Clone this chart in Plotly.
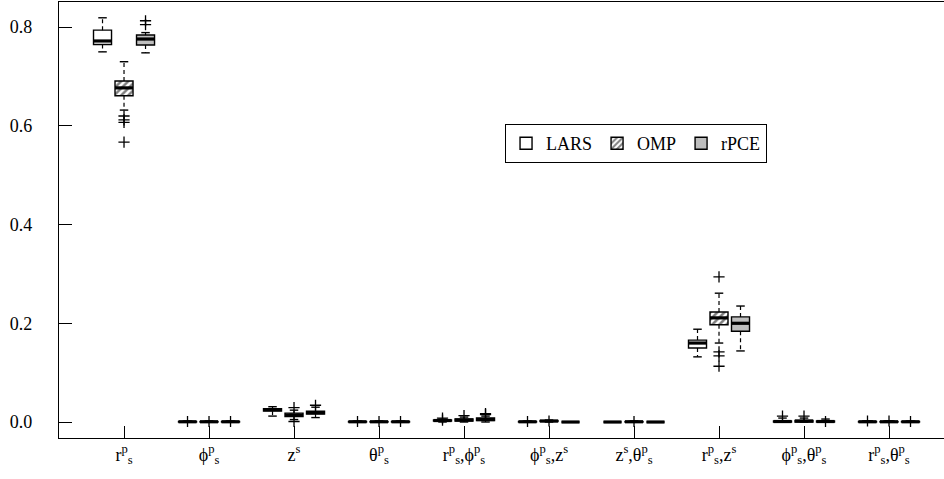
import plotly.graph_objects as go

# ---------------- data ----------------
groups = ["r<sup>p</sup><sub>s</sub>", "ϕ<sup>p</sup><sub>s</sub>", "z<sup>s</sup>",
          "θ<sup>p</sup><sub>s</sub>", "r<sup>p</sup><sub>s</sub>,ϕ<sup>p</sup><sub>s</sub>",
          "ϕ<sup>p</sup><sub>s</sub>,z<sup>s</sup>", "z<sup>s</sup>,θ<sup>p</sup><sub>s</sub>",
          "r<sup>p</sup><sub>s</sub>,z<sup>s</sup>", "ϕ<sup>p</sup><sub>s</sub>,θ<sup>p</sup><sub>s</sub>",
          "r<sup>p</sup><sub>s</sub>,θ<sup>p</sup><sub>s</sub>"]
methods = ["LARS", "OMP", "rPCE"]

lars_lo  = [0.750, 0.000, 0.012, 0.000, 0.000, 0.000, 0.000, 0.132, 0.000, 0.000]
lars_q1  = [0.765, 0.000, 0.022, 0.000, 0.002, 0.000, 0.000, 0.150, 0.000, 0.000]
lars_med = [0.772, 0.0005, 0.025, 0.0005, 0.003, 0.0005, 0.000, 0.160, 0.001, 0.0005]
lars_q3  = [0.794, 0.001, 0.027, 0.001, 0.004, 0.001, 0.000, 0.166, 0.002, 0.001]
lars_hi  = [0.819, 0.002, 0.031, 0.002, 0.006, 0.002, 0.000, 0.188, 0.008, 0.002]
lars_out = [[], [0.001], [], [0.001], [0.004, 0.008], [0.001], [], [], [0.012], [0.002]]

omp_lo  = [0.632, 0.000, 0.005, 0.000, 0.000, 0.000, 0.000, 0.160, 0.000, 0.000]
omp_q1  = [0.661, 0.000, 0.011, 0.000, 0.002, 0.001, 0.000, 0.197, 0.000, 0.000]
omp_med = [0.677, 0.0005, 0.014, 0.0005, 0.004, 0.002, 0.0005, 0.211, 0.002, 0.0005]
omp_q3  = [0.691, 0.001, 0.018, 0.001, 0.006, 0.003, 0.001, 0.223, 0.003, 0.001]
omp_hi  = [0.730, 0.002, 0.024, 0.002, 0.010, 0.004, 0.002, 0.261, 0.008, 0.002]
omp_out = [[0.620, 0.612, 0.607, 0.567], [0.001], [0.029, 0.001], [0.001], [0.013],
           [0.002], [0.001], [0.294, 0.142, 0.134, 0.113], [0.012], [0.002]]

rpce_lo  = [0.748, 0.000, 0.009, 0.000, 0.000, 0.000, 0.000, 0.144, 0.000, 0.000]
rpce_q1  = [0.764, 0.000, 0.016, 0.000, 0.003, 0.000, 0.000, 0.184, 0.000, 0.000]
rpce_med = [0.776, 0.0005, 0.019, 0.0005, 0.005, 0.000, 0.000, 0.200, 0.001, 0.0005]
rpce_q3  = [0.784, 0.001, 0.022, 0.001, 0.008, 0.000, 0.000, 0.213, 0.002, 0.001]
rpce_hi  = [0.789, 0.002, 0.030, 0.002, 0.012, 0.000, 0.000, 0.235, 0.006, 0.002]
rpce_out = [[0.813, 0.805], [0.001], [0.034], [0.001], [0.015, 0.017], [], [], [], [0.001], [0.001]]

y_ticks = [0.0, 0.2, 0.4, 0.6, 0.8]
y_ticktext = ["0.0", "0.2", "0.4", "0.6", "0.8"]

# ---------------- styling ----------------
FONT = "Liberation Serif"
offsets = [-0.253, 0.0, 0.253]
box_w = 0.212
cap_hw = 0.05
stats = [
    (lars_lo, lars_q1, lars_med, lars_q3, lars_hi, lars_out),
    (omp_lo, omp_q1, omp_med, omp_q3, omp_hi, omp_out),
    (rpce_lo, rpce_q1, rpce_med, rpce_q3, rpce_hi, rpce_out),
]
fills = ["white", "white", "#BEBEBE"]
patterns = [None, dict(shape="/", fgcolor="black", bgcolor="white", size=5, solidity=0.5), None]

fig = go.Figure()
n = len(groups)

# boxes (bars)
for m, name in enumerate(methods):
    lo, q1, med, q3, hi, out = stats[m]
    xs = [i + offsets[m] for i in range(n)]
    marker = dict(color=fills[m], line=dict(color="black", width=1.4))
    if patterns[m]:
        marker["pattern"] = patterns[m]
    fig.add_trace(go.Bar(
        x=xs, y=[b - a for a, b in zip(q1, q3)], base=q1, width=box_w,
        marker=marker, name=name, showlegend=True, hoverinfo="skip"))

# whiskers, caps, medians, outliers
for m, name in enumerate(methods):
    lo, q1, med, q3, hi, out = stats[m]
    wx, wy, cx, cy, mx, my, ox, oy = [], [], [], [], [], [], [], []
    for i in range(n):
        xc = i + offsets[m]
        if hi[i] > q3[i]:
            wx += [xc, xc, None]; wy += [q3[i], hi[i], None]
        if lo[i] < q1[i]:
            wx += [xc, xc, None]; wy += [q1[i], lo[i], None]
        cx += [xc - cap_hw, xc + cap_hw, None, xc - cap_hw, xc + cap_hw, None]
        cy += [hi[i], hi[i], None, lo[i], lo[i], None]
        mx += [xc - box_w / 2, xc + box_w / 2, None]
        my += [med[i], med[i], None]
        for v in out[i]:
            ox.append(xc); oy.append(v)
    fig.add_trace(go.Scatter(x=wx, y=wy, mode="lines", showlegend=False, hoverinfo="skip",
                             line=dict(color="black", width=1.2, dash="4px,3px")))
    fig.add_trace(go.Scatter(x=cx, y=cy, mode="lines", showlegend=False, hoverinfo="skip",
                             line=dict(color="black", width=1.4)))
    fig.add_trace(go.Scatter(x=mx, y=my, mode="lines", showlegend=False, hoverinfo="skip",
                             line=dict(color="black", width=3.2)))
    fig.add_trace(go.Scatter(x=ox, y=oy, mode="markers", showlegend=False, hoverinfo="skip",
                             marker=dict(symbol="cross-thin", size=8,
                                         line=dict(color="black", width=1.3))))

fig.update_layout(
    width=944, height=479,
    margin=dict(l=59, r=0, t=2, b=41),
    paper_bgcolor="white", plot_bgcolor="white",
    barmode="overlay",
    font=dict(family=FONT, size=18, color="black"),
    xaxis=dict(range=[-0.765, 9.647], tickmode="array", tickvals=list(range(n)),
               ticktext=groups, ticks="inside", ticklen=12, tickwidth=1, tickcolor="black",
               showline=True, linecolor="black", linewidth=1.2, mirror=True,
               showgrid=False, zeroline=False, tickfont=dict(family=FONT, size=18)),
    yaxis=dict(range=[-0.0324, 0.851], tickmode="array", tickvals=y_ticks,
               ticktext=y_ticktext, ticks="inside", ticklen=13, tickwidth=1, tickcolor="black",
               showline=True, linecolor="black", linewidth=1.2, mirror=False,
               showgrid=False, zeroline=False, ticklabelstandoff=22,
               tickfont=dict(family=FONT, size=18)),
    legend=dict(orientation="h", x=0.504, y=0.72, xanchor="left", yanchor="top",
                bordercolor="black", borderwidth=1, bgcolor="white",
                font=dict(family=FONT, size=18), itemwidth=30,
                traceorder="normal"),
)

fig.write_html("out.html")
